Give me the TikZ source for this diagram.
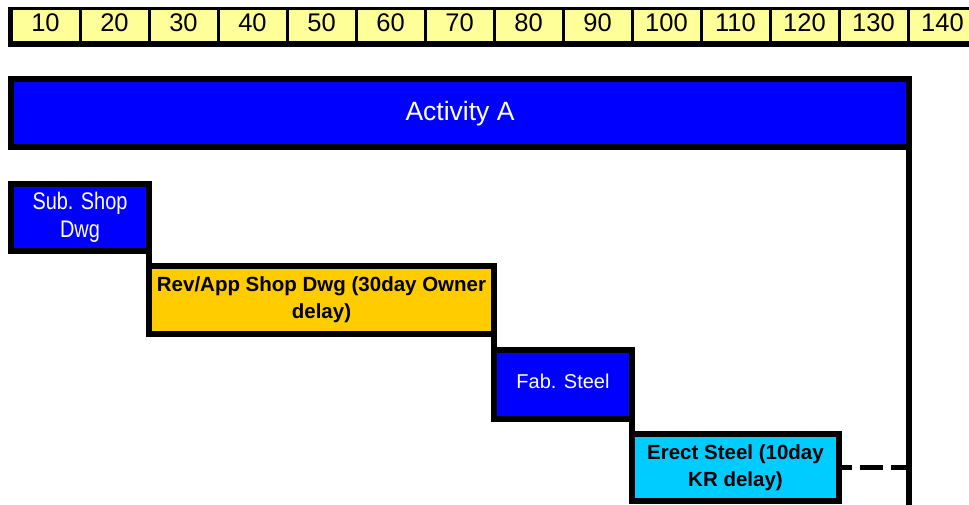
\documentclass[tikz,border=0pt]{standalone}
\usepackage{fontspec}
\setmainfont{Liberation Sans}
\newfontfamily\narrowfont[FakeStretch=0.83]{Liberation Sans}
\definecolor{actblue}{HTML}{0000FF}
\definecolor{rulery}{HTML}{FFFF99}
\definecolor{revy}{HTML}{FFCC00}
\definecolor{erectc}{HTML}{00CCFF}
\begin{document}
\begin{tikzpicture}[x=1pt,y=-1pt,
  bar/.style={draw=black,line width=6pt,rectangle,inner sep=0pt,outer sep=0pt,align=center},
  cell/.style={fill=rulery,rectangle,inner sep=0pt,outer sep=0pt,minimum width=66pt,minimum height=31pt,
    font=\fontsize{25.5}{30}\selectfont,text height=18pt,text depth=6pt},
  link/.style={line width=6pt},
  boldlbl/.style={font=\fontsize{20.5}{27}\selectfont\bfseries,text=black},
  ]
\useasboundingbox (0,0) rectangle (969,504);
\fill[black] (8,7) rectangle (990,47);
\foreach \i [count=\k] in {10,20,...,140} {
  \node[cell] (c\k) at ({11+69*(\k-1)+34.5},25.5) {\i};
}
\node[bar,fill=actblue,text=white,minimum width=898pt,minimum height=68pt,
  font=\fontsize{26.5}{31}\selectfont,text height=19pt,text depth=4.6pt] (act) at (460,113) {Activity A};
\node[bar,fill=actblue,text=white,minimum width=138pt,minimum height=67pt,
  font=\fontsize{24}{28}\narrowfont] (sub) at (80,217.5) {Sub. Shop\\Dwg};
\node[bar,fill=revy,boldlbl,minimum width=345pt,minimum height=68pt] (rev) at (321.5,300) {Rev/App Shop Dwg (30day Owner\\delay)};
\node[bar,fill=actblue,text=white,minimum width=138pt,minimum height=69pt,
  font=\fontsize{20}{24}\selectfont,text height=14.6pt,text depth=7pt] (fab) at (563,384.5) {Fab. Steel};
\node[bar,fill=erectc,boldlbl,minimum width=207pt,minimum height=67pt] (erect) at (735.5,467.5) {Erect Steel (10day\\KR delay)};
\coordinate (end) at (909,520);
\draw[link] (sub.south east) -- (rev.north west);
\draw[link] (rev.south east) -- (fab.north west);
\draw[link] (fab.south east) -- (erect.north west);
\draw[link] (act.south east) -- (end);
\draw[line width=5pt,dash pattern=on 23pt off 8pt,dash phase=10pt] (erect.east) -- (erect.east -| act.east);
\end{tikzpicture}
\end{document}
